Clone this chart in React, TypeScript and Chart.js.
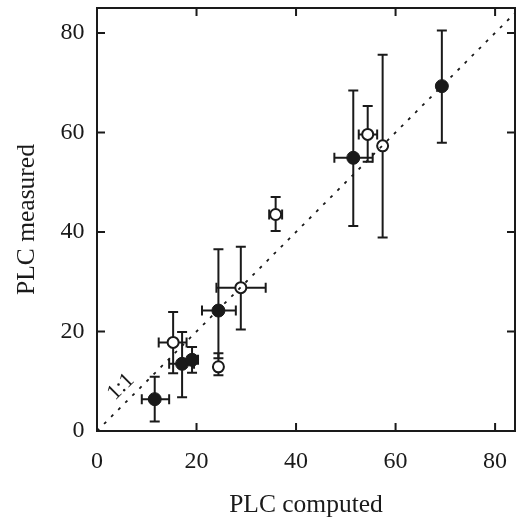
import React, { useEffect, useRef } from "react";
import { Chart, registerables } from "chart.js";

Chart.register(...registerables);

const FONT = "'Liberation Serif', 'DejaVu Serif', 'Times New Roman', serif";
const INK = "#1a1a1a";

// Filled circles
const filledX = [11.6, 17.1, 19.1, 24.4, 51.5, 69.3];
const filledY = [6.4, 13.5, 14.3, 24.2, 54.9, 69.3];
const filledXLow = [9.0, 14.5, 18.4, 21.1, 47.7, null];
const filledXHigh = [14.5, 19.5, 20.3, 27.9, 55.4, null];
const filledYLow = [1.9, 6.8, 11.7, 14.6, 41.2, 57.9];
const filledYHigh = [10.9, 19.9, 16.9, 36.5, 68.4, 80.5];

// Open circles
const openX = [15.3, 24.4, 28.9, 35.9, 54.4, 57.4];
const openY = [17.8, 12.9, 28.8, 43.5, 59.6, 57.3];
const openXLow = [12.4, null, 24.0, 34.6, 52.6, null];
const openXHigh = [18.0, null, 33.9, 37.2, 56.3, null];
const openYLow = [11.6, 11.2, 20.4, 40.2, 54.1, 38.9];
const openYHigh = [23.9, 15.6, 37.0, 47.0, 65.3, 75.6];

// 1:1 reference line
const oneToOne = [0, 85];

const xTicksStep = 20;
const yTicksStep = 20;
const xMax = 84;
const yMax = 85;

const xTitle = "PLC computed";
const yTitle = "PLC measured";
const refLabel = "1:1";
const refLabelPos = { x: 4.8, y: 8.9 };

type Bar = { x: number; y: number; xl: number | null; xh: number | null; yl: number | null; yh: number | null };

function bars(xs: number[], ys: number[], xl: (number | null)[], xh: (number | null)[], yl: (number | null)[], yh: (number | null)[]): Bar[] {
  return xs.map((x, i) => ({ x, y: ys[i], xl: xl[i], xh: xh[i], yl: yl[i], yh: yh[i] }));
}

const allBars = [
  ...bars(filledX, filledY, filledXLow, filledXHigh, filledYLow, filledYHigh),
  ...bars(openX, openY, openXLow, openXHigh, openYLow, openYHigh),
];

const errorBarPlugin = {
  id: "errorBars",
  beforeDatasetsDraw(chart: any) {
    const { ctx, scales } = chart;
    const xs = scales.x;
    const ys = scales.y;
    const cap = 5;
    ctx.save();
    ctx.strokeStyle = INK;
    ctx.lineWidth = 2;
    ctx.lineCap = "butt";
    allBars.forEach((b) => {
      const px = xs.getPixelForValue(b.x);
      const py = ys.getPixelForValue(b.y);
      if (b.yl != null && b.yh != null) {
        const p1 = ys.getPixelForValue(b.yl);
        const p2 = ys.getPixelForValue(b.yh);
        ctx.beginPath();
        ctx.moveTo(px, p1);
        ctx.lineTo(px, p2);
        ctx.moveTo(px - cap, p1);
        ctx.lineTo(px + cap, p1);
        ctx.moveTo(px - cap, p2);
        ctx.lineTo(px + cap, p2);
        ctx.stroke();
      }
      if (b.xl != null && b.xh != null) {
        const p1 = xs.getPixelForValue(b.xl);
        const p2 = xs.getPixelForValue(b.xh);
        ctx.beginPath();
        ctx.moveTo(p1, py);
        ctx.lineTo(p2, py);
        ctx.moveTo(p1, py - cap);
        ctx.lineTo(p1, py + cap);
        ctx.moveTo(p2, py - cap);
        ctx.lineTo(p2, py + cap);
        ctx.stroke();
      }
    });
    ctx.restore();
  },
  afterDraw(chart: any) {
    const { ctx, chartArea, scales } = chart;
    const { left, right, top, bottom } = chartArea;
    const tl = 8;
    ctx.save();
    ctx.strokeStyle = INK;
    ctx.lineWidth = 2;
    ctx.strokeRect(left, top, right - left, bottom - top);
    ctx.beginPath();
    scales.x.ticks.forEach((t: any) => {
      const p = scales.x.getPixelForValue(t.value);
      if (p <= left + 1 || p >= right - 1) return;
      ctx.moveTo(p, bottom);
      ctx.lineTo(p, bottom - tl);
      ctx.moveTo(p, top);
      ctx.lineTo(p, top + tl);
    });
    scales.y.ticks.forEach((t: any) => {
      const p = scales.y.getPixelForValue(t.value);
      if (p >= bottom - 1 || p <= top + 1) return;
      ctx.moveTo(left, p);
      ctx.lineTo(left + tl, p);
      ctx.moveTo(right, p);
      ctx.lineTo(right - tl, p);
    });
    ctx.stroke();
    // 1:1 label
    const lx = scales.x.getPixelForValue(refLabelPos.x);
    const ly = scales.y.getPixelForValue(refLabelPos.y);
    ctx.translate(lx, ly);
    ctx.rotate(-Math.PI / 4);
    ctx.fillStyle = INK;
    ctx.font = `22px ${FONT}`;
    ctx.textAlign = "center";
    ctx.textBaseline = "middle";
    ctx.fillText(refLabel, 0, 0);
    ctx.restore();
  },
};

const zeroPad = (s: any) => {
  s.paddingTop = 0;
  s.paddingBottom = 0;
  s.paddingLeft = 0;
  s.paddingRight = 0;
};

export default function App() {
  const ref = useRef<HTMLCanvasElement | null>(null);
  useEffect(() => {
    if (!ref.current) return;
    const chart = new Chart(ref.current, {
      type: "scatter",
      data: {
        datasets: [
          {
            type: "line",
            label: "1:1",
            data: oneToOne.map((v) => ({ x: v, y: v })),
            borderColor: INK,
            borderWidth: 1.8,
            borderDash: [3, 7],
            pointRadius: 0,
            fill: false,
            order: 0,
          } as any,
          {
            label: "filled",
            data: filledX.map((x, i) => ({ x, y: filledY[i] })),
            pointRadius: 6.5,
            pointBackgroundColor: INK,
            pointBorderColor: INK,
            pointBorderWidth: 1,
            order: 1,
          },
          {
            label: "open",
            data: openX.map((x, i) => ({ x, y: openY[i] })),
            pointRadius: 5.5,
            pointBackgroundColor: "#ffffff",
            pointBorderColor: INK,
            pointBorderWidth: 2,
            order: 2,
          },
        ],
      },
      options: {
        animation: false,
        responsive: false,
        devicePixelRatio: 1,
        layout: { autoPadding: false, padding: { top: 8, right: 1, left: 0, bottom: 0 } },
        plugins: { legend: { display: false }, tooltip: { enabled: false } },
        scales: {
          x: {
            type: "linear",
            min: 0,
            max: xMax,
            grid: { display: false },
            border: { display: false },
            ticks: {
              stepSize: xTicksStep,
              includeBounds: false,
              color: INK,
              padding: 8,
              font: { family: FONT, size: 24 },
            },
            title: {
              display: true,
              text: xTitle,
              color: INK,
              font: { family: FONT, size: 25.5 },
              padding: { top: 0, bottom: 0 },
            },
            afterFit: (s: any) => {
              s.height = 90;
              zeroPad(s);
            },
          },
          y: {
            type: "linear",
            min: 0,
            max: yMax,
            grid: { display: false },
            border: { display: false },
            ticks: {
              stepSize: yTicksStep,
              includeBounds: false,
              color: INK,
              padding: 4.5,
              font: { family: FONT, size: 24 },
            },
            title: {
              display: true,
              text: yTitle,
              color: INK,
              font: { family: FONT, size: 25.5 },
              padding: { top: 12, bottom: 0 },
            },
            afterFit: (s: any) => {
              s.width = 97;
              zeroPad(s);
            },
          },
        },
      },
      plugins: [errorBarPlugin],
    });
    return () => chart.destroy();
  }, []);
  return (
    <div style={{ position: "absolute", left: 0, top: 0, width: 516, height: 521, background: "#fff" }}>
      <canvas ref={ref} width={516} height={521} style={{ display: "block", width: 516, height: 521 }} />
    </div>
  );
}
